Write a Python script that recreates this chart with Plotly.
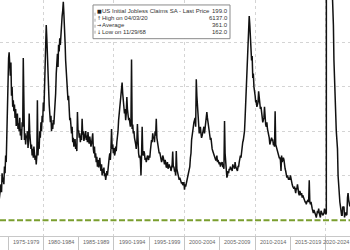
import pandas as pd
import plotly.graph_objects as go

# Initial jobless claims (thousands), one value per month
start_date = "1973-10-01"
claims = [
    245, 262, 275,                                              # 1973 Oct-Dec
    280, 262, 305, 285, 295, 280, 320, 305, 345, 330, 410, 455,  # 1974
    520, 565, 578, 540, 525, 555, 480, 500, 455, 470, 445, 460,  # 1975
    430, 450, 412, 425, 440, 405, 418, 400, 430, 390, 405, 380,  # 1976
    420, 410, 565, 400, 380, 395, 370, 390, 385, 400, 362, 380,  # 1977
    440, 395, 375, 360, 370, 345, 360, 340, 365, 350, 335, 345,  # 1978
    325, 345, 470, 345, 375, 360, 400, 385, 420, 400, 435, 420,  # 1979
    465, 445, 490, 520, 585, 640, 610, 560, 525, 495, 460, 440,  # 1980
    420, 435, 400, 418, 405, 425, 415, 440, 460, 485, 530, 550,  # 1981
    575, 545, 595, 580, 610, 595, 625, 640, 660, 672, 692, 665,  # 1982
    640, 600, 560, 535, 510, 495, 470, 480, 445, 425, 430, 405,  # 1983
    395, 410, 375, 385, 365, 375, 382, 360, 370, 355, 443, 400,  # 1984
    402, 385, 395, 375, 390, 380, 428, 392, 400, 378, 385, 395,  # 1985
    400, 380, 390, 375, 398, 380, 372, 388, 378, 365, 372, 385,  # 1986
    395, 360, 350, 365, 340, 350, 330, 342, 320, 335, 318, 330,  # 1987
    340, 320, 310, 325, 300, 315, 305, 318, 298, 305, 290, 300,  # 1988
    310, 300, 320, 330, 340, 350, 335, 360, 405, 360, 370, 350,  # 1989
    362, 345, 350, 365, 355, 375, 385, 400, 425, 440, 455, 465,  # 1990
    480, 495, 510, 485, 470, 455, 440, 450, 425, 440, 477, 450,  # 1991
    440, 425, 430, 415, 410, 420, 562, 405, 415, 395, 400, 385,  # 1992
    380, 370, 360, 375, 416, 355, 350, 340, 345, 335, 300, 345,  # 1993
    410, 350, 345, 355, 350, 335, 340, 330, 335, 345, 340, 335,  # 1994
    345, 340, 355, 365, 380, 375, 395, 385, 385, 375, 400, 390,  # 1995
    428, 385, 375, 365, 360, 350, 352, 345, 345, 330, 335, 345,  # 1996
    340, 330, 325, 335, 330, 318, 320, 330, 315, 320, 325, 318,  # 1997
    320, 310, 315, 325, 354, 318, 320, 310, 310, 300, 355, 315,  # 1998
    310, 300, 300, 290, 295, 288, 290, 282, 285, 278, 280, 285,  # 1999
    268, 280, 275, 282, 285, 295, 300, 310, 310, 320, 340, 350,  # 2000
    380, 395, 405, 420, 420, 425, 430, 410, 517, 480, 460, 430,  # 2001
    410, 395, 400, 410, 395, 385, 390, 400, 400, 410, 395, 410,  # 2002
    410, 430, 443, 430, 420, 410, 395, 390, 380, 385, 365, 360,  # 2003
    355, 350, 345, 340, 340, 335, 335, 345, 330, 335, 330, 325,  # 2004
    330, 320, 325, 330, 330, 320, 320, 315, 423, 350, 320, 315,  # 2005
    295, 300, 310, 305, 315, 312, 320, 315, 315, 310, 325, 320,  # 2006
    320, 315, 330, 320, 315, 310, 310, 320, 320, 330, 335, 345,  # 2007
    340, 355, 370, 375, 380, 390, 400, 430, 460, 490, 530, 560,  # 2008
    590, 625, 660, 640, 610, 600, 560, 570, 520, 530, 500, 480,  # 2009
    480, 465, 470, 455, 460, 465, 490, 470, 460, 450, 455, 440,  # 2010
    440, 420, 425, 430, 455, 420, 415, 410, 420, 405, 400, 390,  # 2011
    385, 370, 375, 380, 385, 380, 380, 370, 370, 365, 445, 370,  # 2012
    365, 355, 350, 345, 345, 340, 340, 335, 310, 345, 330, 340,  # 2013
    340, 335, 320, 315, 310, 300, 295, 300, 290, 290, 295, 290,  # 2014
    300, 290, 285, 280, 275, 270, 270, 275, 265, 260, 270, 270,  # 2015
    280, 265, 260, 255, 265, 260, 255, 260, 250, 255, 250, 245,  # 2016
    245, 240, 240, 235, 240, 245, 245, 240, 289, 240, 235, 240,  # 2017
    225, 225, 220, 215, 222, 215, 212, 210, 205, 210, 220, 215,  # 2018
    225, 215, 210, 205, 220, 215, 215, 210, 212, 215, 225, 220,  # 2019
    212, 215, 6137, 4500, 2500, 1500, 1400, 1100, 900, 800, 760, 740,  # 2020
    700, 640, 560, 500, 450, 410, 400, 380, 360, 300, 270, 250,  # 2021
    240, 230, 215, 210, 210, 230, 225, 230, 205, 215, 215, 210,  # 2022
    212, 250, 260, 245, 240, 230,                                # 2023
]

last_price = 199.0
legend_labels = ["US Initial Jobless Claims SA - Last Price", "High on 04/03/20", "Average", "Low on 11/29/68"]
legend_values = ["199.0", "6137.0", "361.0", "162.0"]
legend_icons = ["■", "↑", "→", "↓"]

period_starts = ["1975", "1980", "1985", "1990", "1995", "2000", "2005", "2010", "2015", "2020"]
period_labels = ["1975-1979", "1980-1984", "1985-1989", "1990-1994", "1995-1999",
                 "2000-2004", "2005-2009", "2010-2014", "2015-2019", "2020-2024"]
grid_years = ["1980", "1990", "2000", "2010", "2020"]
tick_years = ["1970", "1975", "1985", "1995", "2005", "2015", "2025"]

dates = pd.date_range(start_date, periods=len(claims), freq="MS")

W, H = 350, 250
B = 12
PH = H - B

fig = go.Figure()
fig.add_trace(go.Scatter(x=dates, y=claims, mode="lines",
                         line=dict(color="#111111", width=1.5), showlegend=False))
fig.add_hline(y=last_price, line=dict(color="#7a9e2e", width=2, dash="6px,2.5px"))

fig.update_layout(
    width=W, height=H, margin=dict(l=0, r=0, t=0, b=B),
    paper_bgcolor="white", plot_bgcolor="white", showlegend=False,
    xaxis=dict(type="date", range=["1973-11-13", "2023-06-10"],
               tickvals=[f"{y}-01-01" for y in grid_years], showticklabels=False,
               showgrid=True, griddash="dot", gridcolor="#d4d4d4", gridwidth=1,
               ticks="outside", ticklen=14, tickcolor="#c4c4c4",
               minor=dict(tickvals=[f"{y}-01-01" for y in tick_years], ticks="outside",
                          ticklen=14, tickcolor="#c4c4c4", showgrid=False),
               showline=True, linecolor="#c8c8c8", linewidth=1, zeroline=False),
    yaxis=dict(range=[163.2, 696.3], tickvals=[300, 400, 500, 600], showticklabels=False,
               showgrid=True, griddash="dot", gridcolor="#d4d4d4", gridwidth=1,
               zeroline=False, showline=False, ticks=""),
)

# period labels below the axis
for i, (s, lab) in enumerate(zip(period_starts, period_labels)):
    font = dict(family="Liberation Sans", size=5.5, color="#666")
    if i == len(period_labels) - 1:
        fig.add_annotation(x=0.999, xref="paper", xanchor="right", y=-0.01, yref="paper",
                           yanchor="top", text=lab, showarrow=False, borderpad=0, font=font)
    else:
        fig.add_annotation(x=f"{int(s) + 2}-07-01", xref="x", y=-0.01, yref="paper",
                           yanchor="top", text=lab, showarrow=False, borderpad=0, font=font)

def px_x(px):
    return px / W

def px_y(py):
    return 1 - py / PH

# legend box
fig.add_shape(type="rect", xref="paper", yref="paper",
              x0=px_x(93), x1=px_x(230), y0=px_y(39), y1=px_y(5),
              line=dict(color="#8a8a8a", width=1), fillcolor="white", layer="above")
fig.add_shape(type="line", xref="paper", yref="paper",
              x0=px_x(95), x1=px_x(95), y0=px_y(34), y1=px_y(10),
              line=dict(color="#aaa", width=1, dash="dot"), layer="above")
rows_py = [11, 18, 25, 32]
for icon, lab, val, py in zip(legend_icons, legend_labels, legend_values, rows_py):
    fig.add_annotation(x=px_x(96), xref="paper", y=px_y(py), yref="paper",
                       xanchor="left", yanchor="middle", text=icon, showarrow=False,
                       borderpad=0, font=dict(family="DejaVu Sans", size=5, color="#222"))
    fig.add_annotation(x=px_x(101), xref="paper", y=px_y(py), yref="paper",
                       xanchor="left", yanchor="middle", text=lab, showarrow=False,
                       borderpad=0, font=dict(family="Liberation Sans", size=6, color="#333"))
    fig.add_annotation(x=px_x(229), xref="paper", y=px_y(py), yref="paper",
                       xanchor="right", yanchor="middle", text=val, showarrow=False,
                       borderpad=0, font=dict(family="Liberation Sans", size=6, color="#333"))

fig.write_html("out.html")
